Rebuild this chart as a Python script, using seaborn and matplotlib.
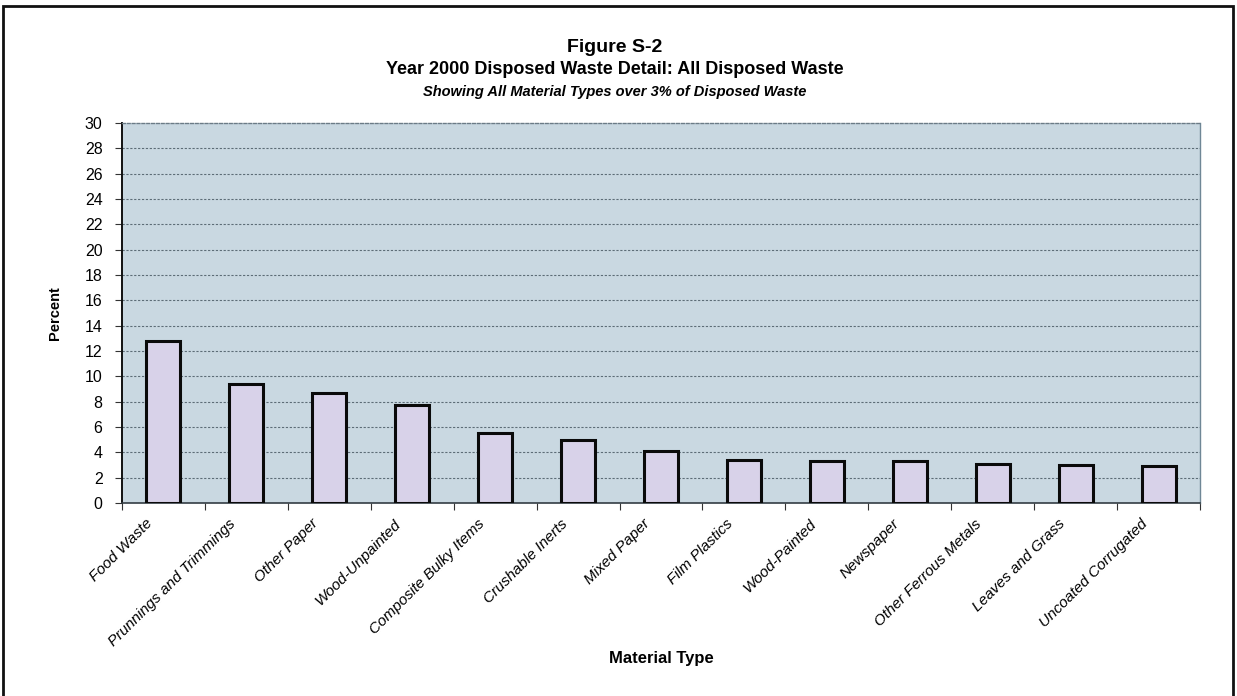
import matplotlib
matplotlib.use("Agg")
import matplotlib.pyplot as plt
import matplotlib.transforms as mtransforms
import seaborn as sns
import numpy as np
from matplotlib.patches import Rectangle
from matplotlib.ticker import FixedLocator

# Material types over 3% of disposed waste (year 2000)
materials = [
    "Food Waste", "Prunnings and Trimmings", "Other Paper", "Wood-Unpainted",
    "Composite Bulky Items", "Crushable Inerts", "Mixed Paper", "Film Plastics",
    "Wood-Painted", "Newspaper", "Other Ferrous Metals", "Leaves and Grass",
    "Uncoated Corrugated",
]
percents = [12.8, 9.4, 8.7, 7.7, 5.5, 5.0, 4.1, 3.4, 3.3, 3.3, 3.1, 3.0, 2.9]
y_ticks = list(range(0, 31, 2))

sns.set_theme(style="white")
plt.rcParams["font.family"] = ["Liberation Sans", "DejaVu Sans"]
plt.rcParams["text.color"] = "black"
plt.rcParams["axes.labelcolor"] = "black"
plt.rcParams["xtick.color"] = "black"
plt.rcParams["ytick.color"] = "black"

W, H = 1237, 696
fig = plt.figure(figsize=(W / 100, H / 100), dpi=100)
fig.patch.set_facecolor("white")

# page frame
fig.add_artist(Rectangle((3 / W, -0.05), (1233 - 3) / W, 1.05 - 6 / H,
                         transform=fig.transFigure, fill=False,
                         edgecolor="#111111", linewidth=2.0))

left, right, top, bottom = 122, 1200, 123, 503
ax = fig.add_axes([left / W, 1 - bottom / H, (right - left) / W, (bottom - top) / H])
ax.set_facecolor("#c9d8e1")

sns.barplot(x=materials, y=percents, color="#d8d2e9", saturation=1,
            edgecolor="#0a0a0a", linewidth=2.2, width=0.41, ax=ax, zorder=3)

ax.set_ylim(0, 30)
ax.set_xlim(-0.5, len(materials) - 0.5)
ax.yaxis.set_major_locator(FixedLocator(y_ticks))
ax.set_yticklabels([str(v) for v in y_ticks], fontsize=11.5)
for v in y_ticks[1:-1]:
    ax.axhline(v, color="#5d6d77", linewidth=0.8, linestyle=(0, (2, 1.5)), zorder=1)

# spines
ax.spines["left"].set_color("#111111")
ax.spines["left"].set_linewidth(1.4)
ax.spines["bottom"].set_color("#333d44")
ax.spines["bottom"].set_linewidth(1.2)
ax.spines["top"].set_color("#6b7b86")
ax.spines["top"].set_linestyle((0, (2, 1.5)))
ax.spines["top"].set_linewidth(1.0)
ax.spines["right"].set_color("#6f8796")
ax.spines["right"].set_linewidth(1.0)

ax.tick_params(axis="y", which="major", direction="out", length=5, width=0.8,
               color="#333333", pad=9, left=True)
# category boundary ticks on the x axis
ax.xaxis.set_minor_locator(FixedLocator(np.arange(-0.5, len(materials), 1.0)))
ax.tick_params(axis="x", which="minor", direction="out", length=5, width=0.8,
               color="#333333", bottom=True)
ax.tick_params(axis="x", which="major", length=0, pad=4)
ax.set_xticks(range(len(materials)))
ax.set_xticklabels(materials, rotation=45, ha="right", rotation_mode="anchor",
                   fontsize=11, fontstyle="italic")
shift = mtransforms.ScaledTranslation(-18 / 100, -8 / 100, fig.dpi_scale_trans)
for lbl in ax.get_xticklabels():
    lbl.set_transform(lbl.get_transform() + shift)

ax.set_ylabel("Percent", fontsize=10.5, fontweight="bold", labelpad=16)
ax.set_xlabel("")
fig.text(661 / W, 1 - 659 / H, "Material Type", ha="center", va="center",
         fontsize=12, fontweight="bold")

# titles
fig.text(0.497, 1 - 47 / H, "Figure S-2", ha="center", va="center",
         fontsize=14, fontweight="bold")
fig.text(0.497, 1 - 70 / H, "Year 2000 Disposed Waste Detail: All Disposed Waste",
         ha="center", va="center", fontsize=13, fontweight="bold")
fig.text(0.497, 1 - 92 / H, "Showing All Material Types over 3% of Disposed Waste",
         ha="center", va="center", fontsize=10.5, fontweight="bold", fontstyle="italic")

fig.savefig("out.png", dpi=100)
